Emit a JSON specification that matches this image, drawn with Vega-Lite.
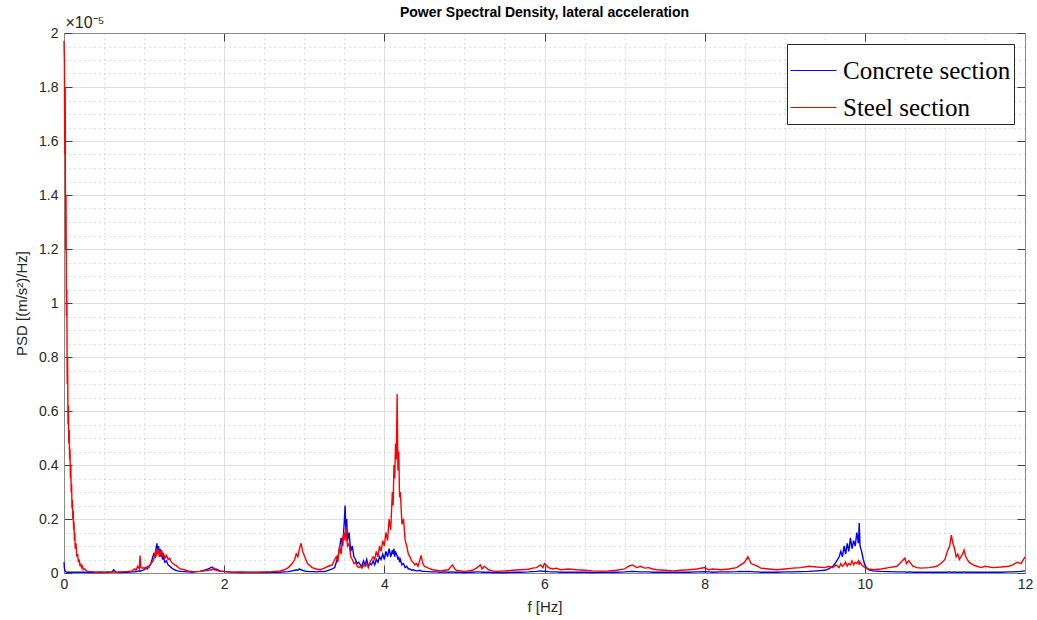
{
 "$schema": "https://vega.github.io/schema/vega-lite/v6.json",
 "width": 961, "height": 540,
 "autosize": {"type": "none"},
 "padding": {"left": 64, "top": 33, "right": 12, "bottom": 47},
 "background": "white",
 "title": {"text": "Power Spectral Density, lateral acceleration", "font": "Liberation Sans", "fontSize": 14, "fontWeight": "bold", "color": "#000000", "anchor": "middle", "frame": "group", "offset": -6},
 "config": {"view": {"stroke": null}, "axis": {"labelFont": "Liberation Sans", "titleFont": "Liberation Sans", "labelColor": "#262626", "titleColor": "#262626", "labelFontSize": 14, "titleFontSize": 15, "titleFontWeight": "normal"}},
 "data": {"values": [
  {"f":0,"concrete":0.04,"steel":1.97},
  {"f":0.005,"concrete":0.02,"steel":1.9},
  {"f":0.01,"concrete":0.01,"steel":1.55},
  {"f":0.015,"concrete":0.005,"steel":1.8},
  {"f":0.02,"concrete":0.005,"steel":1.2},
  {"f":0.025,"concrete":0.004,"steel":1.4},
  {"f":0.03,"concrete":0.004,"steel":0.95},
  {"f":0.035,"concrete":0.003,"steel":1.05},
  {"f":0.04,"concrete":0.003,"steel":0.7},
  {"f":0.045,"concrete":0.003,"steel":0.8},
  {"f":0.05,"concrete":0.003,"steel":0.55},
  {"f":0.055,"concrete":0.003,"steel":0.62},
  {"f":0.06,"concrete":0.003,"steel":0.48},
  {"f":0.065,"concrete":0.003,"steel":0.53},
  {"f":0.07,"concrete":0.003,"steel":0.42},
  {"f":0.075,"concrete":0.003,"steel":0.46},
  {"f":0.08,"concrete":0.003,"steel":0.35},
  {"f":0.085,"concrete":0.003,"steel":0.4},
  {"f":0.09,"concrete":0.003,"steel":0.3},
  {"f":0.095,"concrete":0.003,"steel":0.33},
  {"f":0.1,"concrete":0.003,"steel":0.24},
  {"f":0.105,"concrete":0.003,"steel":0.27},
  {"f":0.11,"concrete":0.003,"steel":0.2},
  {"f":0.115,"concrete":0.003,"steel":0.23},
  {"f":0.12,"concrete":0.003,"steel":0.16},
  {"f":0.125,"concrete":0.003,"steel":0.19},
  {"f":0.13,"concrete":0.003,"steel":0.12},
  {"f":0.135,"concrete":0.003,"steel":0.15},
  {"f":0.14,"concrete":0.003,"steel":0.09},
  {"f":0.15,"concrete":0.003,"steel":0.11},
  {"f":0.16,"concrete":0.003,"steel":0.06},
  {"f":0.17,"concrete":0.003,"steel":0.07},
  {"f":0.18,"concrete":0.003,"steel":0.04},
  {"f":0.19,"concrete":0.003,"steel":0.05},
  {"f":0.2,"concrete":0.003,"steel":0.025},
  {"f":0.21,"concrete":0.003,"steel":0.035},
  {"f":0.22,"concrete":0.003,"steel":0.02},
  {"f":0.23,"concrete":0.003,"steel":0.025},
  {"f":0.24,"concrete":0.003,"steel":0.012},
  {"f":0.26,"concrete":0.003,"steel":0.015},
  {"f":0.28,"concrete":0.002,"steel":0.008},
  {"f":0.3,"concrete":0.002,"steel":0.006},
  {"f":0.35,"concrete":0.002,"steel":0.005},
  {"f":0.4,"concrete":0.002,"steel":0.003},
  {"f":0.45,"concrete":0.003,"steel":0.004},
  {"f":0.5,"concrete":0.002,"steel":0.003},
  {"f":0.55,"concrete":0.003,"steel":0.004},
  {"f":0.6,"concrete":0.004,"steel":0.003},
  {"f":0.62,"concrete":0.012,"steel":0.004},
  {"f":0.65,"concrete":0.003,"steel":0.003},
  {"f":0.7,"concrete":0.002,"steel":0.004},
  {"f":0.75,"concrete":0.003,"steel":0.005},
  {"f":0.8,"concrete":0.003,"steel":0.006},
  {"f":0.85,"concrete":0.004,"steel":0.008},
  {"f":0.88,"concrete":0.004,"steel":0.015},
  {"f":0.9,"concrete":0.005,"steel":0.01},
  {"f":0.92,"concrete":0.006,"steel":0.025},
  {"f":0.94,"concrete":0.008,"steel":0.015},
  {"f":0.95,"concrete":0.006,"steel":0.065},
  {"f":0.96,"concrete":0.008,"steel":0.02},
  {"f":0.98,"concrete":0.01,"steel":0.018},
  {"f":1,"concrete":0.012,"steel":0.02},
  {"f":1.02,"concrete":0.02,"steel":0.015},
  {"f":1.04,"concrete":0.015,"steel":0.025},
  {"f":1.06,"concrete":0.025,"steel":0.02},
  {"f":1.08,"concrete":0.03,"steel":0.035},
  {"f":1.1,"concrete":0.05,"steel":0.04},
  {"f":1.12,"concrete":0.07,"steel":0.05},
  {"f":1.14,"concrete":0.06,"steel":0.08},
  {"f":1.15,"concrete":0.09,"steel":0.06},
  {"f":1.16,"concrete":0.11,"steel":0.09},
  {"f":1.17,"concrete":0.08,"steel":0.07},
  {"f":1.18,"concrete":0.1,"steel":0.085},
  {"f":1.19,"concrete":0.07,"steel":0.06},
  {"f":1.2,"concrete":0.09,"steel":0.08},
  {"f":1.21,"concrete":0.06,"steel":0.07},
  {"f":1.22,"concrete":0.075,"steel":0.085},
  {"f":1.23,"concrete":0.05,"steel":0.06},
  {"f":1.24,"concrete":0.06,"steel":0.075},
  {"f":1.26,"concrete":0.04,"steel":0.055},
  {"f":1.28,"concrete":0.045,"steel":0.065},
  {"f":1.3,"concrete":0.03,"steel":0.05},
  {"f":1.32,"concrete":0.025,"steel":0.055},
  {"f":1.34,"concrete":0.02,"steel":0.04},
  {"f":1.36,"concrete":0.015,"steel":0.035},
  {"f":1.38,"concrete":0.012,"steel":0.03},
  {"f":1.4,"concrete":0.01,"steel":0.028},
  {"f":1.42,"concrete":0.008,"steel":0.022},
  {"f":1.45,"concrete":0.006,"steel":0.015},
  {"f":1.5,"concrete":0.005,"steel":0.012},
  {"f":1.55,"concrete":0.004,"steel":0.008},
  {"f":1.6,"concrete":0.003,"steel":0.006},
  {"f":1.65,"concrete":0.005,"steel":0.005},
  {"f":1.7,"concrete":0.006,"steel":0.006},
  {"f":1.75,"concrete":0.01,"steel":0.008},
  {"f":1.8,"concrete":0.015,"steel":0.01},
  {"f":1.85,"concrete":0.022,"steel":0.012},
  {"f":1.88,"concrete":0.012,"steel":0.018},
  {"f":1.9,"concrete":0.015,"steel":0.01},
  {"f":1.95,"concrete":0.008,"steel":0.006},
  {"f":2,"concrete":0.006,"steel":0.005},
  {"f":2.05,"concrete":0.004,"steel":0.004},
  {"f":2.1,"concrete":0.003,"steel":0.003},
  {"f":2.2,"concrete":0.002,"steel":0.004},
  {"f":2.3,"concrete":0.002,"steel":0.003},
  {"f":2.4,"concrete":0.002,"steel":0.003},
  {"f":2.5,"concrete":0.002,"steel":0.004},
  {"f":2.6,"concrete":0.003,"steel":0.005},
  {"f":2.7,"concrete":0.003,"steel":0.008},
  {"f":2.75,"concrete":0.004,"steel":0.012},
  {"f":2.8,"concrete":0.005,"steel":0.02},
  {"f":2.85,"concrete":0.008,"steel":0.035},
  {"f":2.88,"concrete":0.01,"steel":0.05},
  {"f":2.9,"concrete":0.012,"steel":0.07},
  {"f":2.92,"concrete":0.01,"steel":0.06},
  {"f":2.94,"concrete":0.015,"steel":0.09},
  {"f":2.96,"concrete":0.012,"steel":0.11},
  {"f":2.98,"concrete":0.01,"steel":0.08},
  {"f":3,"concrete":0.008,"steel":0.065},
  {"f":3.02,"concrete":0.006,"steel":0.05},
  {"f":3.04,"concrete":0.006,"steel":0.035},
  {"f":3.06,"concrete":0.005,"steel":0.03},
  {"f":3.1,"concrete":0.005,"steel":0.02},
  {"f":3.15,"concrete":0.004,"steel":0.015},
  {"f":3.2,"concrete":0.006,"steel":0.012},
  {"f":3.25,"concrete":0.005,"steel":0.018},
  {"f":3.3,"concrete":0.01,"steel":0.025},
  {"f":3.35,"concrete":0.015,"steel":0.03},
  {"f":3.38,"concrete":0.02,"steel":0.05},
  {"f":3.4,"concrete":0.04,"steel":0.06},
  {"f":3.42,"concrete":0.06,"steel":0.04},
  {"f":3.44,"concrete":0.09,"steel":0.1},
  {"f":3.46,"concrete":0.13,"steel":0.07},
  {"f":3.48,"concrete":0.1,"steel":0.13},
  {"f":3.5,"concrete":0.19,"steel":0.15},
  {"f":3.51,"concrete":0.25,"steel":0.12},
  {"f":3.52,"concrete":0.16,"steel":0.17},
  {"f":3.53,"concrete":0.2,"steel":0.13},
  {"f":3.54,"concrete":0.12,"steel":0.1},
  {"f":3.56,"concrete":0.15,"steel":0.11},
  {"f":3.58,"concrete":0.08,"steel":0.06},
  {"f":3.6,"concrete":0.1,"steel":0.05},
  {"f":3.62,"concrete":0.06,"steel":0.035},
  {"f":3.64,"concrete":0.05,"steel":0.04},
  {"f":3.66,"concrete":0.035,"steel":0.025},
  {"f":3.68,"concrete":0.04,"steel":0.02},
  {"f":3.7,"concrete":0.03,"steel":0.025},
  {"f":3.72,"concrete":0.025,"steel":0.018},
  {"f":3.74,"concrete":0.045,"steel":0.03},
  {"f":3.76,"concrete":0.03,"steel":0.025},
  {"f":3.78,"concrete":0.05,"steel":0.035},
  {"f":3.8,"concrete":0.025,"steel":0.02},
  {"f":3.82,"concrete":0.035,"steel":0.04},
  {"f":3.84,"concrete":0.03,"steel":0.05},
  {"f":3.86,"concrete":0.045,"steel":0.06},
  {"f":3.88,"concrete":0.03,"steel":0.05},
  {"f":3.9,"concrete":0.05,"steel":0.08},
  {"f":3.92,"concrete":0.04,"steel":0.06},
  {"f":3.94,"concrete":0.06,"steel":0.1},
  {"f":3.96,"concrete":0.05,"steel":0.08},
  {"f":3.98,"concrete":0.07,"steel":0.12},
  {"f":4,"concrete":0.05,"steel":0.1},
  {"f":4.02,"concrete":0.08,"steel":0.15},
  {"f":4.04,"concrete":0.06,"steel":0.12},
  {"f":4.06,"concrete":0.09,"steel":0.2},
  {"f":4.08,"concrete":0.06,"steel":0.16},
  {"f":4.1,"concrete":0.085,"steel":0.3},
  {"f":4.11,"concrete":0.07,"steel":0.25},
  {"f":4.12,"concrete":0.09,"steel":0.4},
  {"f":4.13,"concrete":0.06,"steel":0.35},
  {"f":4.14,"concrete":0.08,"steel":0.48},
  {"f":4.15,"concrete":0.07,"steel":0.42},
  {"f":4.16,"concrete":0.065,"steel":0.663},
  {"f":4.17,"concrete":0.05,"steel":0.38},
  {"f":4.18,"concrete":0.06,"steel":0.45},
  {"f":4.19,"concrete":0.04,"steel":0.28},
  {"f":4.2,"concrete":0.05,"steel":0.3},
  {"f":4.22,"concrete":0.03,"steel":0.18},
  {"f":4.24,"concrete":0.035,"steel":0.2},
  {"f":4.26,"concrete":0.02,"steel":0.12},
  {"f":4.28,"concrete":0.025,"steel":0.1},
  {"f":4.3,"concrete":0.015,"steel":0.07},
  {"f":4.32,"concrete":0.015,"steel":0.06},
  {"f":4.34,"concrete":0.01,"steel":0.045},
  {"f":4.36,"concrete":0.012,"steel":0.04},
  {"f":4.38,"concrete":0.01,"steel":0.03},
  {"f":4.4,"concrete":0.008,"steel":0.035},
  {"f":4.42,"concrete":0.008,"steel":0.025},
  {"f":4.44,"concrete":0.01,"steel":0.045},
  {"f":4.46,"concrete":0.008,"steel":0.065},
  {"f":4.48,"concrete":0.006,"steel":0.035},
  {"f":4.5,"concrete":0.006,"steel":0.025},
  {"f":4.55,"concrete":0.005,"steel":0.018},
  {"f":4.6,"concrete":0.004,"steel":0.012},
  {"f":4.65,"concrete":0.004,"steel":0.01},
  {"f":4.7,"concrete":0.003,"steel":0.008},
  {"f":4.75,"concrete":0.004,"steel":0.01},
  {"f":4.8,"concrete":0.003,"steel":0.012},
  {"f":4.85,"concrete":0.004,"steel":0.03},
  {"f":4.88,"concrete":0.003,"steel":0.015},
  {"f":4.9,"concrete":0.003,"steel":0.01},
  {"f":4.95,"concrete":0.003,"steel":0.008},
  {"f":5,"concrete":0.002,"steel":0.006},
  {"f":5.05,"concrete":0.003,"steel":0.008},
  {"f":5.1,"concrete":0.003,"steel":0.01},
  {"f":5.15,"concrete":0.004,"steel":0.018},
  {"f":5.2,"concrete":0.004,"steel":0.03},
  {"f":5.22,"concrete":0.003,"steel":0.015},
  {"f":5.25,"concrete":0.003,"steel":0.025},
  {"f":5.3,"concrete":0.003,"steel":0.012},
  {"f":5.35,"concrete":0.002,"steel":0.008},
  {"f":5.4,"concrete":0.002,"steel":0.006},
  {"f":5.5,"concrete":0.002,"steel":0.008},
  {"f":5.6,"concrete":0.003,"steel":0.01},
  {"f":5.7,"concrete":0.003,"steel":0.012},
  {"f":5.8,"concrete":0.004,"steel":0.014},
  {"f":5.85,"concrete":0.005,"steel":0.018},
  {"f":5.9,"concrete":0.006,"steel":0.02},
  {"f":5.95,"concrete":0.008,"steel":0.03},
  {"f":5.98,"concrete":0.006,"steel":0.02},
  {"f":6,"concrete":0.007,"steel":0.035},
  {"f":6.05,"concrete":0.005,"steel":0.02},
  {"f":6.1,"concrete":0.004,"steel":0.015},
  {"f":6.15,"concrete":0.004,"steel":0.018},
  {"f":6.2,"concrete":0.003,"steel":0.012},
  {"f":6.3,"concrete":0.003,"steel":0.015},
  {"f":6.4,"concrete":0.003,"steel":0.012},
  {"f":6.5,"concrete":0.003,"steel":0.01},
  {"f":6.6,"concrete":0.002,"steel":0.008},
  {"f":6.7,"concrete":0.003,"steel":0.007},
  {"f":6.8,"concrete":0.003,"steel":0.008},
  {"f":6.9,"concrete":0.003,"steel":0.01},
  {"f":7,"concrete":0.004,"steel":0.015},
  {"f":7.05,"concrete":0.005,"steel":0.025},
  {"f":7.1,"concrete":0.006,"steel":0.03},
  {"f":7.15,"concrete":0.005,"steel":0.02},
  {"f":7.2,"concrete":0.004,"steel":0.025},
  {"f":7.25,"concrete":0.004,"steel":0.018},
  {"f":7.3,"concrete":0.004,"steel":0.02},
  {"f":7.35,"concrete":0.003,"steel":0.015},
  {"f":7.4,"concrete":0.003,"steel":0.012},
  {"f":7.5,"concrete":0.003,"steel":0.01},
  {"f":7.6,"concrete":0.003,"steel":0.008},
  {"f":7.7,"concrete":0.003,"steel":0.01},
  {"f":7.8,"concrete":0.003,"steel":0.012},
  {"f":7.9,"concrete":0.004,"steel":0.015},
  {"f":8,"concrete":0.005,"steel":0.02},
  {"f":8.05,"concrete":0.004,"steel":0.012},
  {"f":8.1,"concrete":0.003,"steel":0.015},
  {"f":8.2,"concrete":0.004,"steel":0.012},
  {"f":8.3,"concrete":0.004,"steel":0.015},
  {"f":8.4,"concrete":0.005,"steel":0.02},
  {"f":8.45,"concrete":0.006,"steel":0.03},
  {"f":8.5,"concrete":0.005,"steel":0.04},
  {"f":8.54,"concrete":0.006,"steel":0.06},
  {"f":8.58,"concrete":0.005,"steel":0.035},
  {"f":8.62,"concrete":0.004,"steel":0.03},
  {"f":8.66,"concrete":0.004,"steel":0.025},
  {"f":8.7,"concrete":0.003,"steel":0.018},
  {"f":8.8,"concrete":0.003,"steel":0.015},
  {"f":8.9,"concrete":0.003,"steel":0.012},
  {"f":9,"concrete":0.004,"steel":0.015},
  {"f":9.1,"concrete":0.004,"steel":0.018},
  {"f":9.2,"concrete":0.005,"steel":0.02},
  {"f":9.3,"concrete":0.006,"steel":0.025},
  {"f":9.4,"concrete":0.008,"steel":0.022},
  {"f":9.5,"concrete":0.01,"steel":0.02},
  {"f":9.55,"concrete":0.015,"steel":0.025},
  {"f":9.6,"concrete":0.025,"steel":0.02},
  {"f":9.64,"concrete":0.04,"steel":0.03},
  {"f":9.68,"concrete":0.06,"steel":0.02},
  {"f":9.7,"concrete":0.08,"steel":0.035},
  {"f":9.72,"concrete":0.06,"steel":0.025},
  {"f":9.74,"concrete":0.1,"steel":0.03},
  {"f":9.76,"concrete":0.07,"steel":0.04},
  {"f":9.78,"concrete":0.11,"steel":0.025},
  {"f":9.8,"concrete":0.08,"steel":0.035},
  {"f":9.82,"concrete":0.13,"steel":0.03},
  {"f":9.84,"concrete":0.09,"steel":0.045},
  {"f":9.86,"concrete":0.12,"steel":0.03},
  {"f":9.88,"concrete":0.1,"steel":0.04},
  {"f":9.9,"concrete":0.15,"steel":0.035},
  {"f":9.92,"concrete":0.11,"steel":0.045},
  {"f":9.93,"concrete":0.185,"steel":0.03},
  {"f":9.94,"concrete":0.1,"steel":0.04},
  {"f":9.96,"concrete":0.08,"steel":0.03},
  {"f":9.98,"concrete":0.05,"steel":0.025},
  {"f":10,"concrete":0.03,"steel":0.02},
  {"f":10.02,"concrete":0.02,"steel":0.018},
  {"f":10.05,"concrete":0.012,"steel":0.015},
  {"f":10.1,"concrete":0.008,"steel":0.012},
  {"f":10.2,"concrete":0.006,"steel":0.015},
  {"f":10.3,"concrete":0.005,"steel":0.02},
  {"f":10.4,"concrete":0.004,"steel":0.025},
  {"f":10.45,"concrete":0.004,"steel":0.04},
  {"f":10.5,"concrete":0.004,"steel":0.055},
  {"f":10.52,"concrete":0.003,"steel":0.035},
  {"f":10.55,"concrete":0.004,"steel":0.045},
  {"f":10.6,"concrete":0.003,"steel":0.025},
  {"f":10.65,"concrete":0.003,"steel":0.02},
  {"f":10.7,"concrete":0.003,"steel":0.018},
  {"f":10.8,"concrete":0.003,"steel":0.02},
  {"f":10.9,"concrete":0.003,"steel":0.025},
  {"f":10.95,"concrete":0.003,"steel":0.035},
  {"f":11,"concrete":0.003,"steel":0.05},
  {"f":11.03,"concrete":0.003,"steel":0.08},
  {"f":11.06,"concrete":0.004,"steel":0.1},
  {"f":11.08,"concrete":0.003,"steel":0.14},
  {"f":11.1,"concrete":0.003,"steel":0.11},
  {"f":11.12,"concrete":0.004,"steel":0.09},
  {"f":11.14,"concrete":0.003,"steel":0.06},
  {"f":11.16,"concrete":0.003,"steel":0.07},
  {"f":11.18,"concrete":0.003,"steel":0.05},
  {"f":11.2,"concrete":0.003,"steel":0.06},
  {"f":11.22,"concrete":0.003,"steel":0.07},
  {"f":11.24,"concrete":0.004,"steel":0.085},
  {"f":11.26,"concrete":0.003,"steel":0.06},
  {"f":11.28,"concrete":0.003,"steel":0.05},
  {"f":11.3,"concrete":0.003,"steel":0.04},
  {"f":11.35,"concrete":0.003,"steel":0.03},
  {"f":11.4,"concrete":0.003,"steel":0.025},
  {"f":11.45,"concrete":0.003,"steel":0.02},
  {"f":11.5,"concrete":0.003,"steel":0.025},
  {"f":11.6,"concrete":0.003,"steel":0.02},
  {"f":11.7,"concrete":0.003,"steel":0.022},
  {"f":11.8,"concrete":0.004,"steel":0.025},
  {"f":11.85,"concrete":0.004,"steel":0.03},
  {"f":11.9,"concrete":0.005,"steel":0.04},
  {"f":11.95,"concrete":0.006,"steel":0.035},
  {"f":12,"concrete":0.008,"steel":0.06}
 ]},
 "transform": [{"fold": ["concrete", "steel"], "as": ["series", "psd"]}],
 "layer": [
  {
   "mark": {"type": "line", "opacity": 0},
   "encoding": {
    "x": {"field": "f", "type": "quantitative", "scale": {"domain": [0, 12], "nice": false, "zero": false},
          "axis": {"orient": "bottom", "values": [0.5,1,1.5,2.5,3,3.5,4.5,5,5.5,6.5,7,7.5,8.5,9,9.5,10.5,11,11.5], "grid": true, "gridDash": [1, 4], "gridColor": "#bdbdbd", "gridWidth": 1, "labels": false, "ticks": false, "domain": false, "title": null}},
    "y": {"field": "psd", "type": "quantitative", "scale": {"domain": [0, 2], "nice": false},
          "axis": {"orient": "left", "values": [0.05,0.1,0.15,0.25,0.3,0.35,0.45,0.5,0.55,0.65,0.7,0.75,0.85,0.9,0.95,1.05,1.1,1.15,1.25,1.3,1.35,1.45,1.5,1.55,1.65,1.7,1.75,1.85,1.9,1.95], "grid": true, "gridDash": [1, 4], "gridColor": "#bdbdbd", "gridWidth": 1, "labels": false, "ticks": false, "domain": false, "title": null}},
    "detail": {"field": "series"}
   }
  },
  {
   "mark": {"type": "line", "opacity": 0},
   "encoding": {
    "x": {"field": "f", "type": "quantitative", "scale": {"domain": [0, 12], "nice": false, "zero": false},
          "axis": {"orient": "bottom", "values": [0,2,4,6,8,10,12], "grid": true, "gridColor": "#dfdfdf", "gridWidth": 1, "ticks": false, "domain": false, "labelPadding": 4, "labelFlush": false, "title": "f [Hz]", "titlePadding": 8}},
    "y": {"field": "psd", "type": "quantitative", "scale": {"domain": [0, 2], "nice": false},
          "axis": {"orient": "left", "values": [0,0.2,0.4,0.6,0.8,1,1.2,1.4,1.6,1.8,2], "labelExpr": "format(datum.value, '.1~f')", "grid": true, "gridColor": "#dfdfdf", "gridWidth": 1, "ticks": false, "domain": false, "labelPadding": 6, "labelFlush": false, "title": "PSD [(m/s²)/Hz]", "titlePadding": 9}},
    "detail": {"field": "series"}
   }
  },
  {
   "mark": {"type": "line", "opacity": 0},
   "encoding": {
    "x": {"field": "f", "type": "quantitative", "scale": {"domain": [0, 12], "nice": false, "zero": false},
          "axis": {"orient": "top", "values": [0,2,4,6,8,10,12], "grid": false, "labels": false, "ticks": true, "tickSize": -8, "tickColor": "#404040", "domain": true, "domainColor": "#8a8a8a", "title": "×10⁻⁵", "titleAnchor": "start", "titleAlign": "left", "titleX": 1, "titleY": -3, "titleBaseline": "bottom", "titleFontSize": 16}},
    "y": {"field": "psd", "type": "quantitative", "scale": {"domain": [0, 2], "nice": false},
          "axis": {"orient": "right", "values": [0,0.2,0.4,0.6,0.8,1,1.2,1.4,1.6,1.8,2], "grid": false, "labels": false, "ticks": true, "tickSize": -8, "tickColor": "#404040", "domain": true, "domainColor": "#8a8a8a", "title": null}},
    "detail": {"field": "series"}
   }
  },
  {
   "mark": {"type": "line", "opacity": 0},
   "encoding": {
    "x": {"field": "f", "type": "quantitative", "scale": {"domain": [0, 12], "nice": false, "zero": false},
          "axis": {"orient": "bottom", "values": [0,2,4,6,8,10,12], "grid": false, "labels": false, "ticks": true, "tickSize": -8, "tickColor": "#404040", "domain": true, "domainColor": "#8a8a8a", "title": null}},
    "y": {"field": "psd", "type": "quantitative", "scale": {"domain": [0, 2], "nice": false},
          "axis": {"orient": "left", "values": [0,0.2,0.4,0.6,0.8,1,1.2,1.4,1.6,1.8,2], "grid": false, "labels": false, "ticks": true, "tickSize": -8, "tickColor": "#404040", "domain": true, "domainColor": "#8a8a8a", "title": null}},
    "detail": {"field": "series"}
   }
  },
  {
   "mark": {"type": "line", "strokeWidth": 1.4},
   "encoding": {
    "x": {"field": "f", "type": "quantitative", "scale": {"domain": [0, 12], "nice": false, "zero": false}, "axis": null},
    "y": {"field": "psd", "type": "quantitative", "scale": {"domain": [0, 2], "nice": false}, "axis": null},
    "stroke": {"field": "series", "type": "nominal", "scale": {"domain": ["concrete", "steel"], "range": ["#0000ff", "#ff0000"]},
      "legend": {"orient": "top-right", "offset": 11, "title": null, "labelExpr": "datum.label == 'concrete' ? 'Concrete section' : 'Steel section'", "labelFont": "Liberation Serif", "labelFontSize": 25, "labelColor": "#000000", "labelLimit": 400, "symbolType": "M-1,0H1", "symbolSize": 2116, "symbolStrokeWidth": 1, "symbolFillColor": "transparent", "fillColor": "white", "strokeColor": "#262626", "padding": 3, "rowPadding": -10, "labelOffset": 6}}
   }
  }
 ],
 "resolve": {"axis": {"x": "independent", "y": "independent"}}
}
